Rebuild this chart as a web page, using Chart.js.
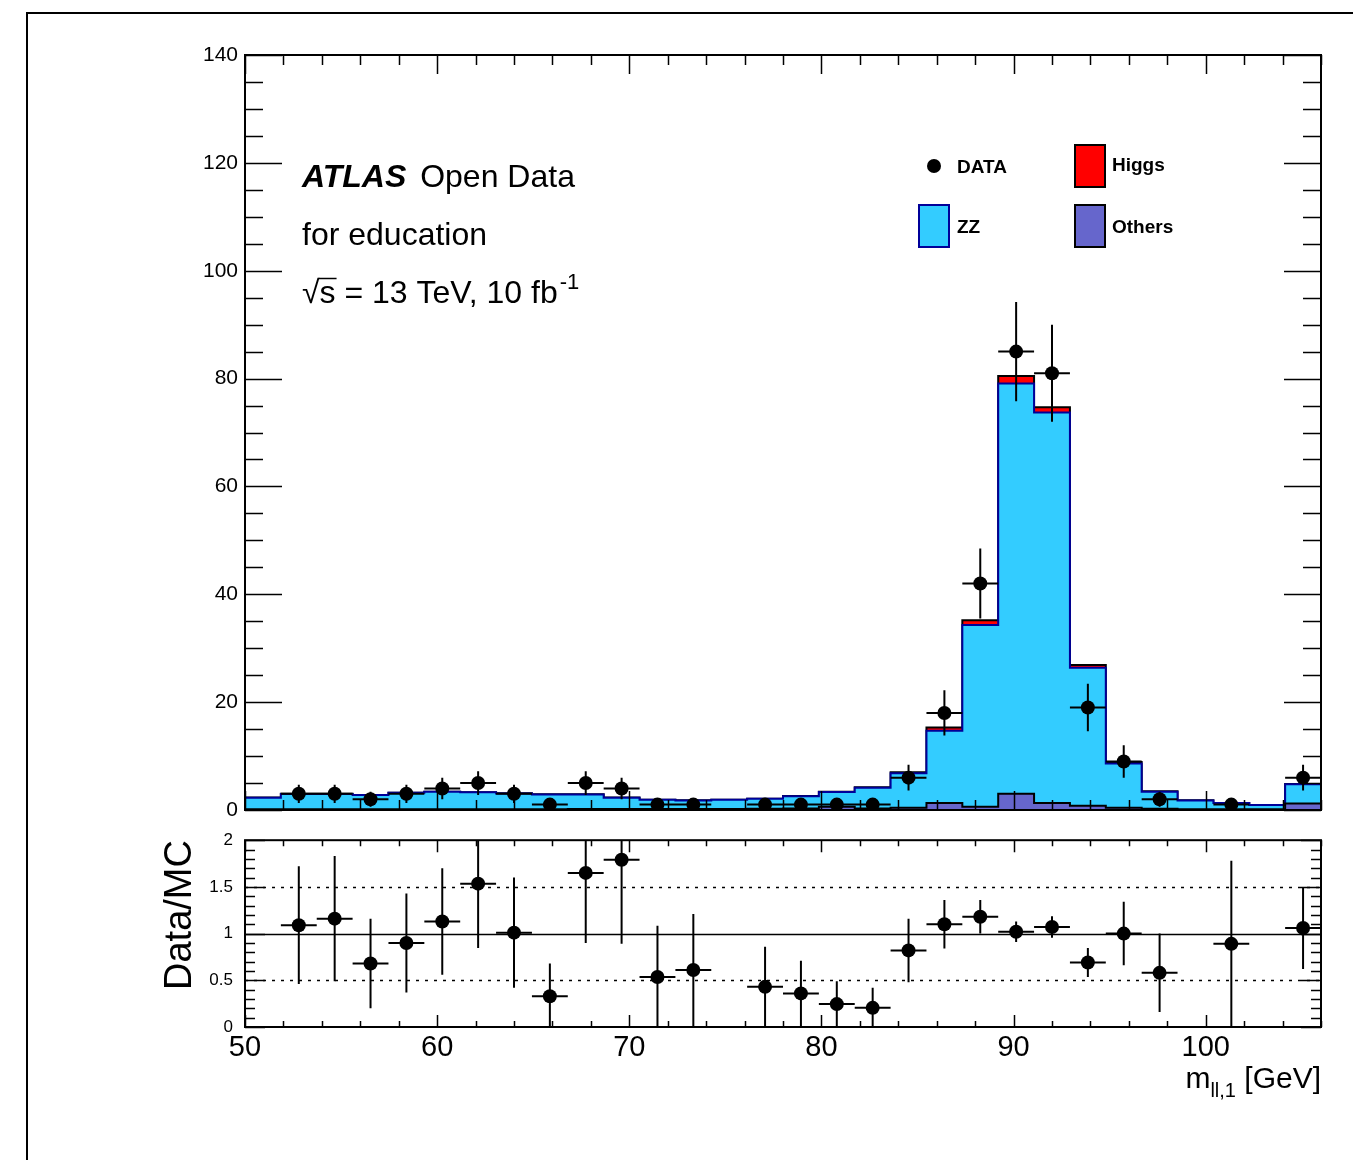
<!DOCTYPE html>
<html>
<head>
<meta charset="utf-8">
<title>m_ll,1 [GeV]</title>
<script src="https://cdn.jsdelivr.net/npm/chart.js@4.4.1/dist/chart.umd.min.js"></script>
<style>
  html, body { margin: 0; padding: 0; background: #fff; }
  body { width: 1353px; height: 1160px; position: relative; overflow: hidden; }
  #frame { position: absolute; left: 26px; top: 12px; width: 1400px; height: 1300px;
           border-left: 2px solid #000; border-top: 2px solid #000; }
  canvas { position: absolute; left: 0; }
  #mainChart { top: 0; }
  #ratioChart { top: 818px; }
</style>
</head>
<body>
<div id="frame"></div>
<canvas id="mainChart" width="1353" height="830"></canvas>
<canvas id="ratioChart" width="1353" height="342"></canvas>
<script>
// 軸・ビン
const xMin = 50;
const xMax = 106;
const nBins = 30;
const xTicks = [50, 60, 70, 80, 90, 100];
const yTicksMain = [0, 20, 40, 60, 80, 100, 120, 140];
const yTicksRatio = [0, 0.5, 1, 1.5, 2];
const ratioRefLines = [0.5, 1, 1.5];

// データ (イベント数)
const dataCounts = [0, 3, 3, 2, 3, 4, 5, 3, 1, 5, 4, 1, 1, 0, 1, 1, 1, 1, 6, 18, 42, 85, 81, 19, 9, 2, 0, 1, 0, 6];
const dataErr = [0, 1.7, 1.7, 1.4, 1.7, 2.0, 2.2, 1.7, 1.0, 2.2, 2.0, 1.0, 1.0, 0, 1.0, 1.0, 1.0, 1.0, 2.4, 4.2, 6.5, 9.2, 9.0, 4.4, 3.0, 1.4, 0, 1.0, 0, 2.4];

// MC (積み上げ)
const othersMC = [0.15, 0.15, 0.15, 0.15, 0.15, 0.15, 0.15, 0.15, 0.15, 0.2, 0.2, 0.2, 0.2, 0.2, 0.25, 0.3, 0.6, 0.3, 0.4, 1.3, 0.6, 3.0, 1.3, 0.8, 0.4, 0.25, 0.15, 0.15, 0.15, 1.2];
const zzMC = [2.13, 2.83, 2.83, 2.63, 3.03, 3.23, 3.13, 2.93, 2.73, 2.68, 2.08, 1.68, 1.58, 1.68, 1.83, 2.27, 2.76, 3.84, 6.4, 13.4, 33.7, 76.1, 72.4, 25.6, 8.2, 3.15, 1.62, 1.13, 0.78, 3.56];
const higgsMC = [0.02, 0.02, 0.02, 0.02, 0.02, 0.02, 0.02, 0.02, 0.02, 0.02, 0.02, 0.02, 0.02, 0.02, 0.02, 0.03, 0.04, 0.06, 0.2, 0.6, 0.9, 1.4, 1.0, 0.5, 0.3, 0.1, 0.03, 0.02, 0.02, 0.04];

// Data/MC
const ratioValues = [null, 1.09, 1.16, 0.68, 0.90, 1.13, 1.535, 1.01, 0.33, 1.65, 1.79, 0.535, 0.61, null, 0.43, 0.36, 0.245, 0.205, 0.82, 1.10, 1.18, 1.02, 1.07, 0.69, 1.00, 0.58, null, 0.89, null, 1.06];
const ratioErr = [0, 0.63, 0.67, 0.48, 0.53, 0.57, 0.69, 0.59, 0.35, 0.75, 0.90, 0.55, 0.60, 0, 0.43, 0.35, 0.245, 0.215, 0.34, 0.26, 0.18, 0.11, 0.115, 0.155, 0.34, 0.42, 0, 0.89, 0, 0.44];

const COL_ZZ = '#33ccff';
const COL_ZZ_LINE = '#000099';
const COL_HIGGS = '#ff0000';
const COL_OTHERS = '#6666cc';
const FONT = '"Liberation Sans", Arial, Helvetica, sans-serif';

Chart.defaults.font.family = FONT;
Chart.defaults.color = '#000';

const binWidth = (xMax - xMin) / nBins;
const binLow = dataCounts.map((_, i) => xMin + i * binWidth);
const binCenter = binLow.map(v => v + binWidth / 2);

// ヒストグラムの外形 (階段)
function stepPoints(values) {
    const pts = [{ x: xMin, y: 0 }];
    values.forEach((v, i) => pts.push({ x: binLow[i], y: v }));
    pts.push({ x: xMax, y: values[values.length - 1] });
    pts.push({ x: xMax, y: 0 });
    return pts;
}

function markerPoints(values) {
    return values.map((v, i) => ({ x: binCenter[i], y: v }))
        .filter(p => p.y !== null && p.y > 0);
}

const zzTop = othersMC.map((v, i) => v + zzMC[i]);
const higgsTop = zzTop.map((v, i) => v + higgsMC[i]);

// 目盛り (内向き, 四辺)
function rootAxes(cfg) {
    return {
        id: 'rootAxes',
        afterDatasetsDraw(chart) {
            const { ctx, chartArea: a, scales: { x, y } } = chart;
            ctx.save();
            ctx.strokeStyle = '#000';
            ctx.lineWidth = 1.5;
            ctx.beginPath();
            for (let k = 0; ; k++) {
                const v = x.min + k * cfg.xMinor;
                if (v > x.max + 1e-6) break;
                const px = Math.round(x.getPixelForValue(v)) + 0.5;
                const major = Math.abs(v / cfg.xMajor - Math.round(v / cfg.xMajor)) < 1e-6;
                const len = major ? cfg.xMajorLen : cfg.xMinorLen;
                ctx.moveTo(px, a.bottom); ctx.lineTo(px, a.bottom - len);
                ctx.moveTo(px, a.top); ctx.lineTo(px, a.top + len);
            }
            for (let k = 0; ; k++) {
                const v = y.min + k * cfg.yMinor;
                if (v > y.max + 1e-6) break;
                const py = Math.round(y.getPixelForValue(v)) + 0.5;
                const major = Math.abs(v / cfg.yMajor - Math.round(v / cfg.yMajor)) < 1e-6;
                const len = major ? cfg.yMajorLen : cfg.yMinorLen;
                ctx.moveTo(a.left, py); ctx.lineTo(a.left + len, py);
                ctx.moveTo(a.right, py); ctx.lineTo(a.right - len, py);
            }
            ctx.stroke();
            ctx.lineWidth = 2;
            ctx.strokeRect(a.left, a.top, a.right - a.left, a.bottom - a.top);
            ctx.restore();
        }
    };
}

// 誤差棒
function errorBars(values, errs) {
    return {
        id: 'errorBars',
        afterDatasetsDraw(chart) {
            const { ctx, chartArea: a, scales: { x, y } } = chart;
            ctx.save();
            ctx.beginPath();
            ctx.rect(a.left, a.top, a.right - a.left, a.bottom - a.top);
            ctx.clip();
            ctx.strokeStyle = '#000';
            ctx.lineWidth = 2;
            ctx.beginPath();
            values.forEach((v, i) => {
                if (v === null || v <= 0) return;
                const px = x.getPixelForValue(binCenter[i]);
                const py = y.getPixelForValue(v);
                ctx.moveTo(px, y.getPixelForValue(v - errs[i]));
                ctx.lineTo(px, y.getPixelForValue(v + errs[i]));
                ctx.moveTo(x.getPixelForValue(binLow[i]), py);
                ctx.lineTo(x.getPixelForValue(binLow[i] + binWidth), py);
            });
            ctx.stroke();
            ctx.restore();
        }
    };
}

// ATLAS ラベルと凡例
const labelsPlugin = {
    id: 'atlasLabels',
    afterDraw(chart) {
        const ctx = chart.ctx;
        ctx.save();
        ctx.fillStyle = '#000';
        ctx.strokeStyle = '#000';
        ctx.textBaseline = 'alphabetic';
        ctx.textAlign = 'left';

        ctx.font = 'italic bold 32px ' + FONT;
        ctx.fillText('ATLAS', 302, 187);
        const wAtlas = ctx.measureText('ATLAS ').width;
        ctx.font = '32px ' + FONT;
        ctx.fillText('Open Data', 302 + wAtlas + 5, 187);
        ctx.fillText('for education', 302, 245);

        let xs = 302;
        const yb = 303;
        ctx.fillText('\u221A', xs, yb);
        xs += ctx.measureText('\u221A').width;
        ctx.fillText('s', xs, yb);
        const ws = ctx.measureText('s').width;
        ctx.lineWidth = 1.5;
        ctx.beginPath();
        ctx.moveTo(xs - 1, yb - 24.5);
        ctx.lineTo(xs + ws + 1, yb - 24.5);
        ctx.stroke();
        xs += ws;
        const rest = ' = 13 TeV, 10 fb';
        ctx.fillText(rest, xs, yb);
        xs += ctx.measureText(rest).width;
        ctx.font = '22px ' + FONT;
        ctx.fillText('-1', xs + 2, yb - 14);

        // 凡例
        ctx.font = 'bold 19px ' + FONT;
        ctx.textBaseline = 'middle';
        ctx.beginPath();
        ctx.arc(934, 166, 7, 0, 2 * Math.PI);
        ctx.fill();
        ctx.fillText('DATA', 957, 168);
        const boxes = [
            { x: 1075, y: 145, fill: COL_HIGGS, line: '#000', text: 'Higgs', tx: 1112, ty: 166 },
            { x: 919, y: 205, fill: COL_ZZ, line: COL_ZZ_LINE, text: 'ZZ', tx: 957, ty: 228 },
            { x: 1075, y: 205, fill: COL_OTHERS, line: '#000', text: 'Others', tx: 1112, ty: 228 }
        ];
        boxes.forEach(b => {
            ctx.fillStyle = b.fill;
            ctx.fillRect(b.x, b.y, 30, 42);
            ctx.strokeStyle = b.line;
            ctx.lineWidth = 2;
            ctx.strokeRect(b.x, b.y, 30, 42);
            ctx.fillStyle = '#000';
            ctx.fillText(b.text, b.tx, b.ty);
        });
        ctx.restore();
    }
};

// 比の基準線
const refLinesPlugin = {
    id: 'refLines',
    beforeDatasetsDraw(chart) {
        const { ctx, chartArea: a, scales: { y } } = chart;
        ctx.save();
        ctx.strokeStyle = '#000';
        ctx.lineWidth = 1.5;
        ratioRefLines.forEach(v => {
            const py = Math.round(y.getPixelForValue(v)) + 0.5;
            ctx.setLineDash(v === 1 ? [] : [3, 6]);
            ctx.beginPath();
            ctx.moveTo(a.left, py);
            ctx.lineTo(a.right, py);
            ctx.stroke();
        });
        ctx.restore();
    }
};

// 軸タイトル
const ratioTitles = {
    id: 'ratioTitles',
    afterDraw(chart) {
        const ctx = chart.ctx;
        ctx.save();
        ctx.fillStyle = '#000';
        ctx.font = '38px ' + FONT;
        ctx.translate(181, 97);
        ctx.rotate(-Math.PI / 2);
        ctx.textAlign = 'center';
        ctx.textBaseline = 'middle';
        ctx.fillText('Data/MC', 0, 0);
        ctx.restore();

        ctx.save();
        ctx.fillStyle = '#000';
        ctx.textBaseline = 'alphabetic';
        ctx.textAlign = 'right';
        const right = chart.chartArea.right;
        const yb = 270;
        ctx.font = '30px ' + FONT;
        ctx.fillText('[GeV]', right, yb);
        let xr = right - ctx.measureText(' [GeV]').width;
        ctx.font = '20px ' + FONT;
        ctx.fillText('ll,1', xr, yb + 9);
        xr -= ctx.measureText('ll,1').width;
        ctx.font = '30px ' + FONT;
        ctx.fillText('m', xr, yb);
        ctx.restore();
    }
};

const markerStyle = {
    type: 'scatter',
    pointRadius: 7,
    pointHoverRadius: 7,
    pointBackgroundColor: '#000',
    pointBorderWidth: 0,
    borderWidth: 0
};

// メインのヒストグラム
new Chart(document.getElementById('mainChart'), {
    type: 'line',
    data: {
        datasets: [
            Object.assign({ label: 'DATA', data: markerPoints(dataCounts) }, markerStyle),
            {
                label: 'Others', data: stepPoints(othersMC), stepped: true,
                borderColor: '#000', borderWidth: 2, backgroundColor: COL_OTHERS,
                fill: 'origin', pointRadius: 0
            },
            {
                label: 'ZZ', data: stepPoints(zzTop), stepped: true,
                borderColor: COL_ZZ_LINE, borderWidth: 2, backgroundColor: COL_ZZ,
                fill: '-1', pointRadius: 0
            },
            {
                label: 'Higgs', data: stepPoints(higgsTop), stepped: true,
                borderColor: '#000', borderWidth: 2, backgroundColor: COL_HIGGS,
                fill: '-1', pointRadius: 0
            }
        ]
    },
    options: {
        responsive: false,
        animation: false,
        events: [],
        layout: { padding: { left: 0, right: 32, top: 55, bottom: 20 } },
        plugins: { legend: { display: false }, tooltip: { enabled: false } },
        scales: {
            x: { type: 'linear', min: xMin, max: xMax, display: false },
            y: {
                type: 'linear', min: 0, max: 140,
                afterBuildTicks: s => { s.ticks = yTicksMain.map(v => ({ value: v })); },
                afterFit: s => { s.width = 245; },
                grid: { display: false, drawTicks: false },
                border: { display: false },
                ticks: { color: '#000', font: { size: 21 }, padding: 7 }
            }
        }
    },
    plugins: [
        rootAxes({ xMinor: 2, xMajor: 10, xMinorLen: 10, xMajorLen: 19, yMinor: 5, yMajor: 20, yMinorLen: 18, yMajorLen: 37 }),
        errorBars(dataCounts, dataErr),
        labelsPlugin
    ]
});

// Data/MC 比
new Chart(document.getElementById('ratioChart'), {
    type: 'line',
    data: {
        datasets: [
            Object.assign({ label: 'Data/MC', data: markerPoints(ratioValues) }, markerStyle)
        ]
    },
    options: {
        responsive: false,
        animation: false,
        events: [],
        layout: { padding: { left: 0, right: 32, top: 20, bottom: 73 } },
        plugins: { legend: { display: false }, tooltip: { enabled: false } },
        scales: {
            x: {
                type: 'linear', min: xMin, max: xMax,
                afterBuildTicks: s => { s.ticks = xTicks.map(v => ({ value: v })); },
                afterFit: s => { s.height = 60; },
                grid: { display: false, drawTicks: false },
                border: { display: false },
                ticks: { color: '#000', font: { size: 29 }, padding: 4, maxRotation: 0, autoSkip: false }
            },
            y: {
                type: 'linear', min: 0, max: 2,
                afterBuildTicks: s => { s.ticks = yTicksRatio.map(v => ({ value: v })); },
                afterFit: s => { s.width = 245; },
                grid: { display: false, drawTicks: false },
                border: { display: false },
                ticks: { color: '#000', font: { size: 17 }, padding: 12, callback: v => String(v) }
            }
        }
    },
    plugins: [
        refLinesPlugin,
        rootAxes({ xMinor: 2, xMajor: 10, xMinorLen: 6, xMajorLen: 12, yMinor: 0.1, yMajor: 0.5, yMinorLen: 10, yMajorLen: 20 }),
        errorBars(ratioValues, ratioErr),
        ratioTitles
    ]
});
</script>
</body>
</html>
